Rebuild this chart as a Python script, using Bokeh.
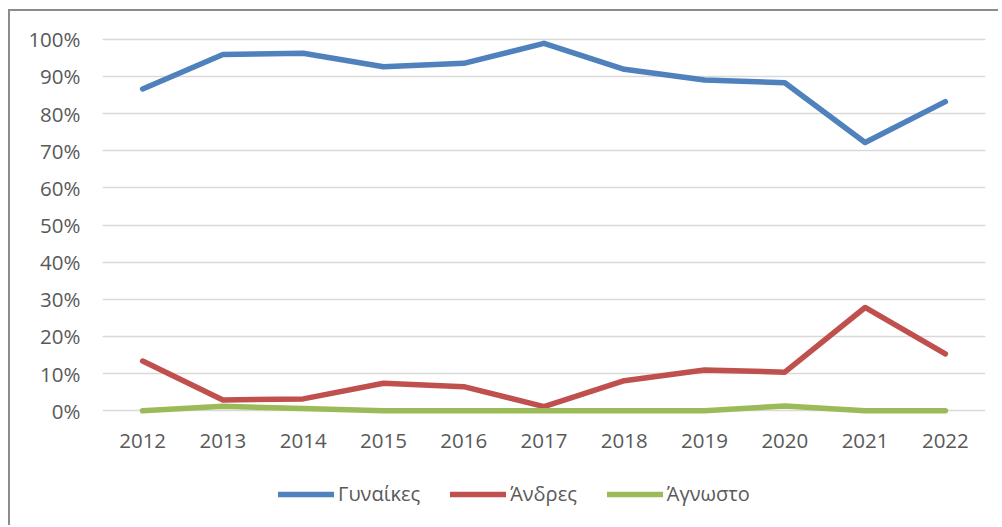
from bokeh.plotting import figure
from bokeh.models import Range1d, NumeralTickFormatter, Legend, LegendItem, FixedTicker, Spacer
from bokeh.layouts import row, column
from bokeh.embed import file_html
from bokeh.resources import INLINE

years = ["2012", "2013", "2014", "2015", "2016", "2017", "2018", "2019", "2020", "2021", "2022"]
women = [86.6, 95.9, 96.2, 92.6, 93.5, 98.9, 91.9, 89.0, 88.3, 72.2, 83.2]
men = [13.4, 2.9, 3.2, 7.4, 6.5, 1.1, 8.1, 11.0, 10.4, 27.8, 15.3]
unknown = [0.0, 1.2, 0.6, 0.0, 0.0, 0.0, 0.0, 0.0, 1.3, 0.0, 0.0]
names = ["Γυναίκες", "Άνδρες", "Άγνωστο"]
colors = ["#4F81BD", "#C0504D", "#9BBB59"]
y_ticks = [0, 10, 20, 30, 40, 50, 60, 70, 80, 90, 100]

FONT = "Open Sans"
TXT = "#595959"
BORDER = "2px solid #8c8c8c"

# main chart
p = figure(width=990, height=449, x_range=years, y_range=Range1d(-1, 101),
           output_backend="svg", toolbar_location=None,
           min_border_left=92, min_border_right=15, min_border_top=24, min_border_bottom=46)
p.styles = {"border-left": BORDER, "border-top": BORDER}
p.outline_line_color = None

p.xgrid.grid_line_color = None
p.ygrid.grid_line_color = "#D9D9D9"
p.ygrid.grid_line_width = 1.5
p.yaxis.ticker = FixedTicker(ticks=y_ticks)
p.yaxis.formatter = NumeralTickFormatter(format="0")
p.yaxis.major_label_overrides = {t: f"{t}%" for t in y_ticks}

for ax in (p.xaxis, p.yaxis):
    ax.axis_line_color = None
    ax.major_tick_line_color = None
    ax.minor_tick_line_color = None
    ax.major_label_text_font = FONT
    ax.major_label_text_font_size = "20.5px"
    ax.major_label_text_color = TXT
p.yaxis.major_label_standoff = 16
p.xaxis.major_label_standoff = 13

series = [women, men, unknown]
for vals, c in zip(series, colors):
    p.line(years, vals, line_color=c, line_width=5.5, line_cap="round", line_join="round")

# legend strip (series drawn outside its view, only the legend shows)
pl = figure(width=990, height=67, x_range=years, y_range=Range1d(1000, 1001),
            output_backend="svg", toolbar_location=None,
            x_axis_location=None, y_axis_location=None,
            min_border_left=0, min_border_right=0, min_border_top=0, min_border_bottom=0)
pl.styles = {"border-left": BORDER}
pl.outline_line_color = None
pl.grid.grid_line_color = None
leg_renderers = []
for vals, c in zip(series, colors):
    r = pl.line(years, vals, line_color=c, line_width=5.5, line_cap="round")
    leg_renderers.append(r)

legend = Legend(items=[LegendItem(label=n, renderers=[r]) for n, r in zip(names, leg_renderers)],
                orientation="horizontal", location=(176, 18))
legend.label_text_font = FONT
legend.label_text_font_size = "20px"
legend.label_text_color = TXT
legend.glyph_width = 56
legend.label_standoff = 4
legend.spacing = 30
legend.padding = 0
legend.margin = 0
legend.border_line_color = None
legend.background_fill_alpha = 0
pl.add_layout(legend, "center")

layout = row(Spacer(width=8), column(Spacer(height=9), p, pl))
open("out.html", "w").write(file_html(layout, INLINE))
